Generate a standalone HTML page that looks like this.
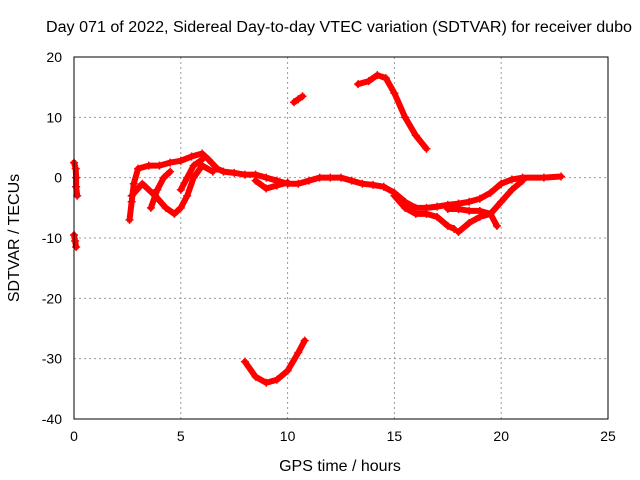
<!DOCTYPE html>
<html><head><meta charset="utf-8"><style>
body{margin:0;background:#fff}
svg{display:block;font-family:"Liberation Sans",sans-serif}
</style></head><body>
<svg id="chart" width="640" height="480">
<rect width="640" height="480" fill="#fff"/>
<text x="46" y="32" text-anchor="start" font-size="15.5" textLength="586" lengthAdjust="spacingAndGlyphs">Day 071 of 2022, Sidereal Day-to-day VTEC variation (SDTVAR) for receiver dubo</text>
<text x="340" y="471" text-anchor="middle" font-size="16">GPS time / hours</text>
<text transform="translate(19,238) rotate(-90)" text-anchor="middle" font-size="16">SDTVAR / TECUs</text>
<g id="grid"></g><g id="marks"></g>
<rect x="74" y="57" width="534" height="362" fill="none" stroke="#000"/>
</svg>
<script>
const xTicks=[0,5,10,15,20,25];
const yTicks=[20,10,0,-10,-20,-30,-40];
const trackA1=[[0,2.5],[0.08,1.5],[0.1,0],[0.1,-1.5],[0.15,-3]];
const trackA2=[[0,-9.5],[0.05,-10.5],[0.1,-11.5]];
const trackMain=[[2.6,-7],[2.7,-4],[2.8,-1],[3.0,1.5],[3.5,2],[4,2],[4.5,2.5],[5,2.8],[5.5,3.5],[6,4],[6.3,3],[6.7,1.5],[7,1],[7.5,0.8],[8,0.5],[8.5,0.5],[9,0],[9.5,-0.5],[10,-1],[10.5,-1],[11,-0.5],[11.5,0],[12,0],[12.5,0],[13,-0.5],[13.5,-1],[14,-1.2],[14.5,-1.5],[15,-2.5],[15.5,-4],[16,-5],[16.5,-5],[17,-4.8],[17.5,-4.5],[18,-4.3],[18.5,-4],[19,-3.5],[19.5,-2.5],[20,-1],[20.5,-0.3],[21,0],[22,0],[22.8,0.2]];
const trackLoop1=[[2.7,-3],[3.2,-1],[3.8,-3],[4.3,-5],[4.7,-6],[5.0,-5],[5.3,-3],[5.6,0],[6,2],[6.5,1]];
const trackLoop2=[[3.6,-5],[3.9,-2],[4.2,0],[4.5,1]];
const trackLoop3=[[5.0,-2],[5.3,0],[5.6,2],[6,3]];
const trackDip=[[8.5,-0.5],[9,-1.8],[9.5,-1.3],[10,-0.8]];
const trackLow1=[[15,-3],[15.5,-5],[16,-6],[16.5,-6],[17,-6.5],[17.5,-8],[17.8,-8.5]];
const trackLow2=[[18,-9],[18.5,-7.5],[19,-6.5],[19.5,-6],[20,-4],[20.5,-2],[21,-0.5]];
const trackLow3=[[17.5,-5.2],[18,-5.2],[18.5,-5.5],[19,-5.5],[19.5,-6],[19.8,-8]];
const trackC=[[10.3,12.5],[10.5,13],[10.7,13.5]];
const trackD=[[13.3,15.5],[13.8,16],[14.2,17],[14.6,16.5],[15,14],[15.5,10],[16,7],[16.5,4.8]];
const trackE=[[8,-30.5],[8.5,-33],[9,-34],[9.5,-33.5],[10,-32],[10.5,-29],[10.8,-27]];
const tracks=[trackA1,trackA2,trackMain,trackLoop1,trackLoop2,trackLoop3,trackDip,trackLow1,trackLow2,trackLow3,trackC,trackD,trackE];
const X=h=>74+h*534/25, Y=v=>57+(20-v)*362/60;
const NS="http://www.w3.org/2000/svg";
const grid=document.getElementById('grid'), marks=document.getElementById('marks');
function mk(t,a,p){const e=document.createElementNS(NS,t);for(const k in a)e.setAttribute(k,a[k]);p.appendChild(e);return e;}
xTicks.forEach(t=>{
 if(t>0&&t<25){const l=mk('line',{x1:X(t),x2:X(t),y1:57,y2:419,stroke:'#999','stroke-dasharray':'2,3'},grid);
 
 }
 const tx=mk('text',{x:X(t),y:441,'text-anchor':'middle','font-size':14},grid);tx.textContent=t;
 
 
});
yTicks.forEach(t=>{
 if(t<20&&t>-40){const l=mk('line',{x1:74,x2:608,y1:Y(t),y2:Y(t),stroke:'#999','stroke-dasharray':'2,3'},grid);
 
 }
 const tx=mk('text',{x:62,y:Y(t)+5,'text-anchor':'end','font-size':14},grid);tx.textContent=t;
 
 
});
tracks.forEach(tr=>{
 const pl=mk('polyline',{points:tr.map(p=>X(p[0])+','+Y(p[1])).join(' '),fill:'none',stroke:'#f00','stroke-width':6,'stroke-linejoin':'round','stroke-linecap':'round'},marks);
 
 
 tr.forEach(p=>{const m=mk('path',{d:`M${X(p[0])-4},${Y(p[1])}h8M${X(p[0])},${Y(p[1])-4}v8`,stroke:'#f00','stroke-width':1.5},marks);
 
 });
});
</script>
</body></html>
